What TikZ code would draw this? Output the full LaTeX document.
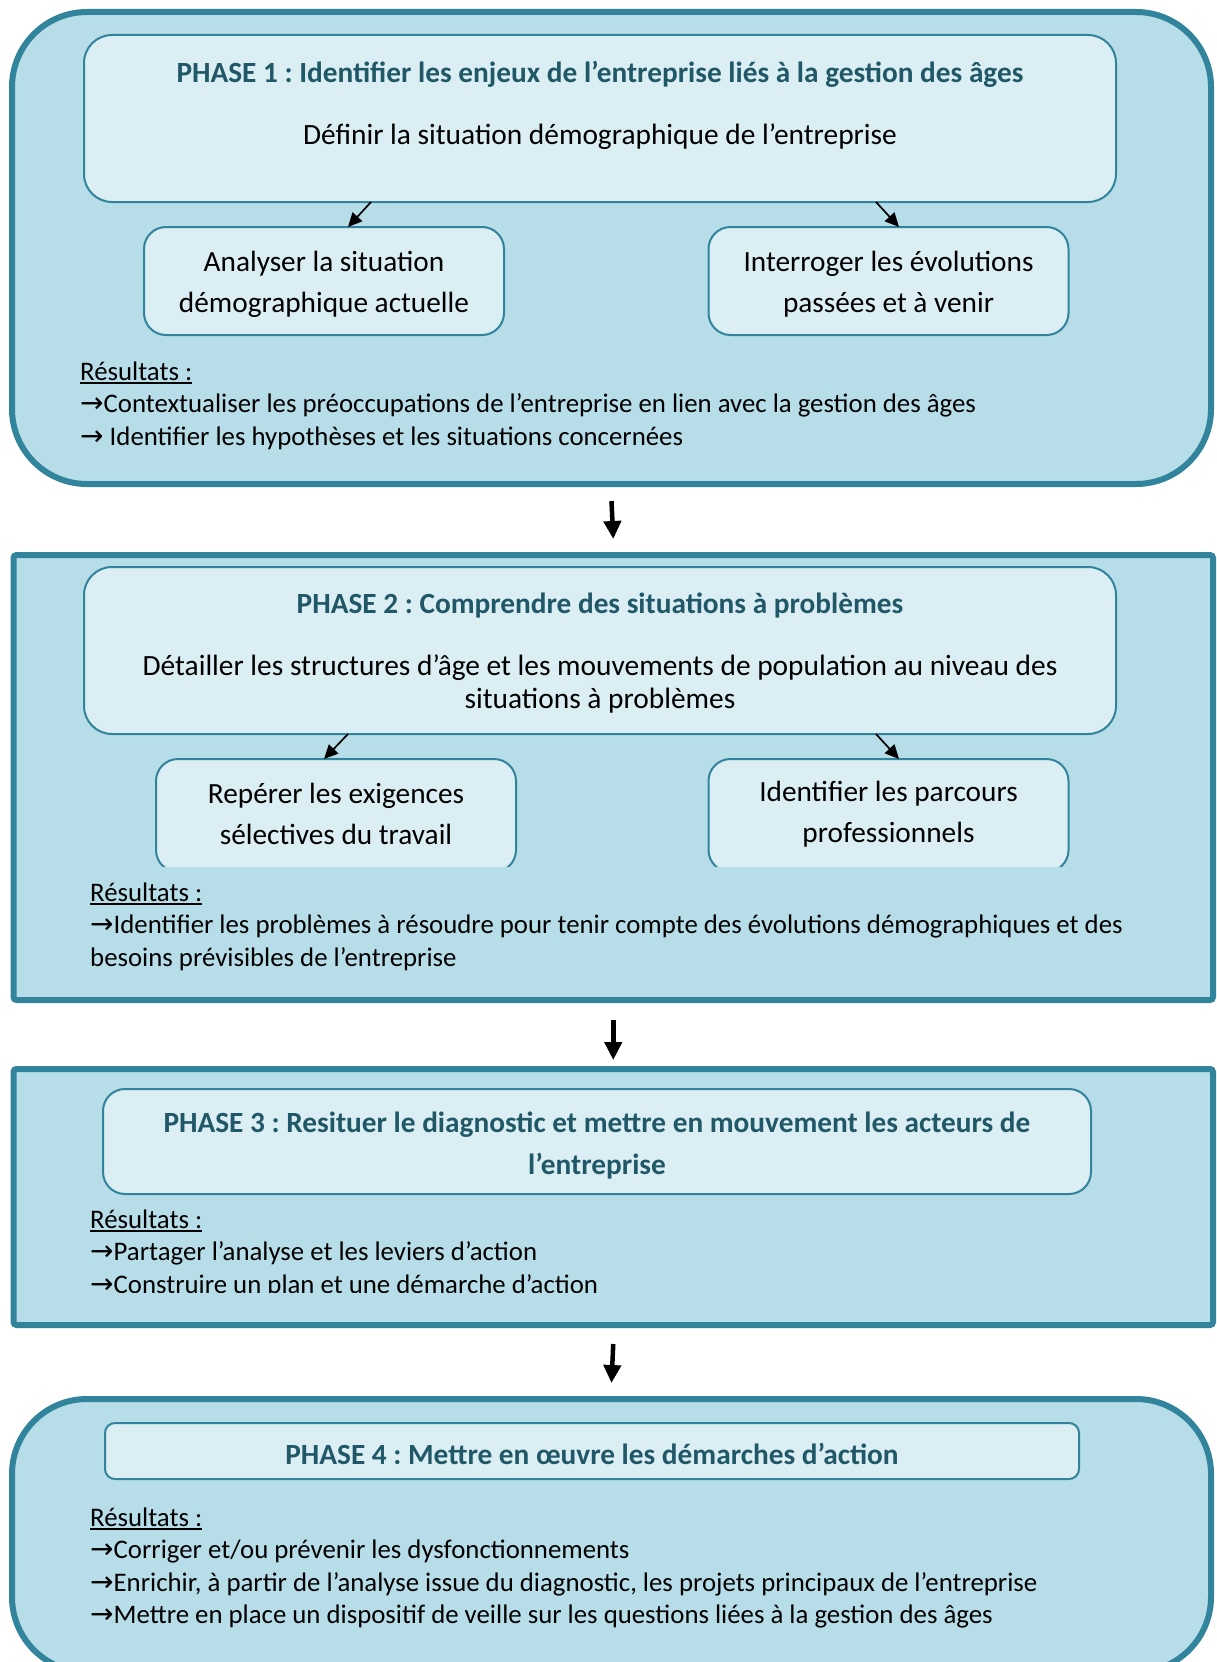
\documentclass[tikz,border=0pt]{standalone}
\usepackage{fontspec}
\setmainfont{Carlito}
\newfontfamily\arrfont{DejaVu Sans}
\usetikzlibrary{arrows.meta}
\definecolor{outfill}{HTML}{B7DDE8}
\definecolor{bord}{HTML}{31849B}
\definecolor{infill}{HTML}{DAEEF3}
\definecolor{ttl}{HTML}{215868}
\newcommand{\myul}[1]{\setbox0\hbox{#1}\rlap{\rule[-3.8pt]{\wd0}{1.8pt}}\box0}
\newcommand{\myarrow}{{\arrfont\fontsize{28}{28}\selectfont →}}
\tikzset{
  outerbox/.style={draw=bord, line width=6pt, fill=outfill, inner sep=0pt, outer sep=0pt},
  innerbox/.style={draw=bord, line width=2pt, fill=infill, inner sep=0pt, outer sep=0pt},
  subbox/.style={innerbox, rounded corners=22pt, minimum width=360pt, minimum height=108pt},
  subtext/.style={inner sep=0pt, align=center, font=\fontsize{29.3}{41}\selectfont},
  ttext/.style={anchor=base, inner sep=0pt, align=center, text=ttl, font=\fontsize{29.3}{42}\selectfont\bfseries},
  btext/.style={anchor=base, inner sep=0pt, align=center, font=\fontsize{29.4}{33}\selectfont},
  restext/.style={anchor=base west, inner sep=0pt, align=left, font=\fontsize{26.8}{32.5}\selectfont},
  conn/.style={-{Triangle[length=14pt,width=13pt]}, line width=1.7pt, black},
  bigarr/.style={-{Triangle[length=18pt,width=17pt]}, line width=4.5pt, black}
}
\begin{document}
\frenchspacing
\begin{tikzpicture}[x=1pt,y=-1pt]
\useasboundingbox (0,0) rectangle (1217,1662);
\fill[white] (0,0) rectangle (1217,1662);

% ---------- PHASE 1 ----------
\node[outerbox, rounded corners=75pt, minimum width=1199pt, minimum height=472pt] (ph1) at (611.5,248) {};
\node[innerbox, rounded corners=28pt, minimum width=1032pt, minimum height=167pt] (p1main) at (600,118.5) {};
\node[ttext] (p1title) at (600,82) {PHASE 1 : Identifier les enjeux de l’entreprise liés à la gestion des âges};
\node[btext] (p1text) at (600,144) {Définir la situation démographique de l’entreprise};
\node[subbox] (p1a) at (324,281) {};
\node[subbox] (p1b) at (888.5,281) {};
\node[subtext] (p1atext) at (324,284) {Analyser la situation\\démographique actuelle};
\node[subtext] (p1btext) at (888.5,284) {Interroger les évolutions\\passées et à venir};
\draw[conn] ([xshift=-229pt]p1main.south) -- ([xshift=24pt]p1a.north);
\draw[conn] ([xshift=276pt]p1main.south) -- ([xshift=10.5pt]p1b.north);
\node[restext] (p1res) at (80,445) {\myul{Résultats :}\\\myarrow Contextualiser les préoccupations de l’entreprise en lien avec la gestion des âges\\\myarrow\ Identifier les hypothèses et les situations concernées};

% ---------- PHASE 2 ----------
\node[outerbox, rounded corners=3pt, minimum width=1199.5pt, minimum height=445pt] (ph2) at (613.25,777.5) {};
\node[innerbox, rounded corners=28pt, minimum width=1032pt, minimum height=167pt] (p2main) at (600,650.5) {};
\node[ttext] (p2title) at (600,613) {PHASE 2 : Comprendre des situations à problèmes};
\node[btext] (p2text) at (600,708) {Détailler les structures d’âge et les mouvements de population au niveau des\\situations à problèmes};
\begin{scope}
\clip (0,0) rectangle (1217,866);
\node[subbox, minimum height=113pt] (p2a) at (336,815.5) {};
\node[subbox, minimum height=113pt] (p2b) at (888.5,815.5) {};
\end{scope}
\node[subtext] (p2atext) at (336,814) {Repérer les exigences\\sélectives du travail};
\node[subtext] (p2btext) at (888.5,814) {Identifier les parcours\\professionnels};
\draw[conn] ([xshift=-252pt]p2main.south) -- ([xshift=-12pt]p2a.north);
\draw[conn] ([xshift=276pt]p2main.south) -- ([xshift=10.5pt]p2b.north);
\node[restext] (p2res) at (90,966) {\myul{Résultats :}\\\myarrow Identifier les problèmes à résoudre pour tenir compte des évolutions démographiques et des\\besoins prévisibles de l’entreprise};

% ---------- PHASE 3 ----------
\node[outerbox, rounded corners=3pt, minimum width=1199.5pt, minimum height=256pt] (ph3) at (613.25,1197) {};
\node[innerbox, rounded corners=22pt, minimum width=988pt, minimum height=105pt] (p3main) at (597,1141.5) {};
\node[ttext] (p3title) at (597,1174) {PHASE 3 : Resituer le diagnostic et mettre en mouvement les acteurs de\\l’entreprise};
\begin{scope}
\clip (0,0) rectangle (1217,1292);
\node[restext] (p3res) at (90,1293) {\myul{Résultats :}\\\myarrow Partager l’analyse et les leviers d’action\\\myarrow Construire un plan et une démarche d’action};
\end{scope}

% ---------- PHASE 4 ----------
\node[outerbox, rounded corners=75pt, minimum width=1199pt, minimum height=273pt] (ph4) at (611.5,1535.5) {};
\node[innerbox, rounded corners=10pt, minimum width=974pt, minimum height=56pt] (p4main) at (592,1451) {};
\node[ttext] (p4title) at (592,1464) {PHASE 4 : Mettre en œuvre les démarches d’action};
\node[restext] (p4res) at (90,1623.5) {\myul{Résultats :}\\\myarrow Corriger et/ou prévenir les dysfonctionnements\\\myarrow Enrichir, à partir de l’analyse issue du diagnostic, les projets principaux de l’entreprise\\\myarrow Mettre en place un dispositif de veille sur les questions liées à la gestion des âges};

% ---------- arrows between phases ----------
\draw[bigarr] ([yshift=-17pt]ph1.south) -- ([yshift=16pt]ph2.north);
\draw[bigarr] ([yshift=-20pt]ph2.south) -- ([yshift=9pt]ph3.north);
\draw[bigarr] ([yshift=-19pt]ph3.south) -- ([yshift=16pt]ph4.north);
\end{tikzpicture}
\end{document}
